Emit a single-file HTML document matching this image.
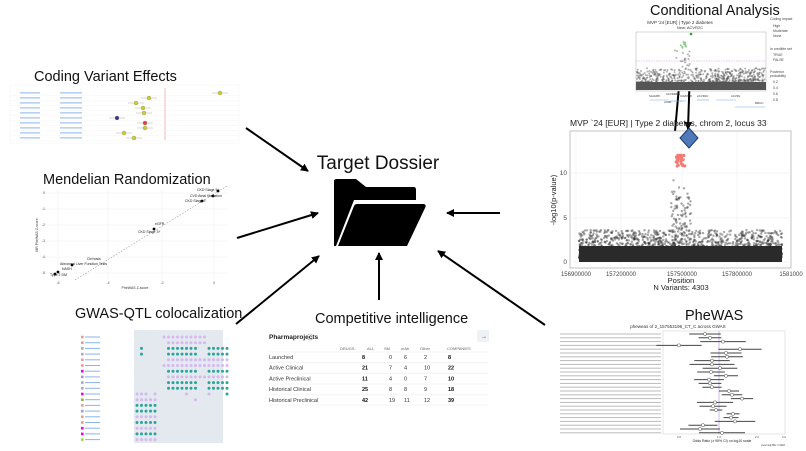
<!DOCTYPE html>
<html><head><meta charset="utf-8"><style>
html,body{margin:0;padding:0;background:#fff;}
svg{display:block;font-family:"Liberation Sans",sans-serif;}
</style></head><body>
<svg id="s" width="806" height="451" viewBox="0 0 806 451" xmlns="http://www.w3.org/2000/svg">
<defs><marker id="ah" markerWidth="8" markerHeight="8" refX="7" refY="4" orient="auto" markerUnits="userSpaceOnUse"><path d="M0,0 L8,4 L0,8 Z" fill="#000"/></marker></defs>
<rect width="806" height="451" fill="#fff"/>

<text x="378" y="169" font-size="19" text-anchor="middle" fill="#111">Target Dossier</text>
<path d="M334,181 Q334,179 337,179 L356,179 L366,187 L414,187 Q416,187 416,190 L416,200 L354,200 L336,246 L334,246 Z" fill="#000"/>
<path d="M357,204 L423,204 Q427,204 425,208 L407,246 L338,246 L354,206 Q355,204 357,204 Z" fill="#000"/>

<g stroke="#000" stroke-width="2" fill="none" marker-end="url(#ah)">
<line x1="246" y1="128" x2="308" y2="171"/>
<line x1="237" y1="238" x2="318" y2="213"/>
<line x1="236" y1="324" x2="319" y2="256"/>
<line x1="379" y1="300" x2="379" y2="253"/>
<line x1="500" y1="213" x2="447" y2="213"/>
<line x1="545" y1="325" x2="438" y2="251"/>
<line x1="682" y1="53" x2="673" y2="154"/>
<line x1="691" y1="37" x2="688" y2="129"/>
</g>

<text x="34" y="81" font-size="14.5" fill="#111">Coding Variant Effects</text>
<g id="cve"></g>

<text x="43" y="184" font-size="14.5" fill="#111">Mendelian Randomization</text>
<g id="mr"></g>

<text x="75" y="318" font-size="14.5" fill="#111">GWAS-QTL colocalization</text>
<g id="gq"></g>

<text x="315" y="323" font-size="14.5" fill="#111">Competitive intelligence</text>
<g id="ci" font-size="5.5" fill="#333">
<text x="269" y="339" font-size="6.5" font-weight="bold" fill="#222">Pharmaprojects</text>
<circle cx="310" cy="337" r="3" fill="none" stroke="#aaa" stroke-width="0.6"/>
<rect x="477" y="330" width="12" height="12" fill="#eef1f5"/>
<text x="481" y="338" font-size="6">→</text>
</g>

<text x="650" y="15" font-size="14.5" fill="#111">Conditional Analysis</text>
<text x="680" y="24" font-size="4.5" text-anchor="middle" fill="#333">MVP '24 [EUR] | Type 2 diabetes</text>
<text x="690" y="29" font-size="4" text-anchor="middle" fill="#333">New: ACVR2C</text>
<rect x="636" y="32" width="130" height="59" fill="#fff" stroke="#bbb" stroke-width="0.6"/>
<line x1="636" y1="61" x2="766" y2="61" stroke="#c9c" stroke-width="0.6" stroke-dasharray="1.5,1"/>
<g id="ca"></g>
<g id="leg" font-size="3.5" fill="#444">
<text x="770" y="20">Coding impact</text><text x="773" y="27">High</text><text x="773" y="32">Moderate</text><text x="773" y="37">None</text>
<text x="770" y="50">In credible set</text><text x="773" y="56">TRUE</text><text x="773" y="61">FALSE</text>
<text x="770" y="73">Posterior</text><text x="770" y="77">probability</text>
<text x="773" y="83">0.2</text><text x="773" y="89">0.4</text><text x="773" y="95">0.6</text><text x="773" y="101">0.8</text>
</g>

<text x="570" y="126" font-size="8.5" fill="#222">MVP `24 [EUR] | Type 2 diabetes, chrom 2, locus 33</text>
<rect x="570" y="131" width="221" height="137" fill="#fff" stroke="#999" stroke-width="0.6"/>
<g id="mh"></g>
<g font-size="6.5" fill="#444" text-anchor="end">
<text x="567" y="264">0</text><text x="567" y="220">5</text><text x="567" y="175">10</text>
</g>
<text transform="translate(556,200) rotate(-90)" font-size="7.5" text-anchor="middle" fill="#222">-log10(p-value)</text>
<g font-size="6" fill="#444" text-anchor="middle">
<text x="576" y="276">156900000</text><text x="621" y="276">157200000</text><text x="682" y="276">157500000</text><text x="737" y="276">157800000</text><text x="791" y="276">1581000</text>
</g>
<text x="681" y="283" font-size="7.5" text-anchor="middle" fill="#222">Position</text>
<text x="681" y="290" font-size="7.5" text-anchor="middle" fill="#222">N Variants: 4303</text>
<path d="M689,128 L698,138 L689,148 L680,138 Z" fill="#4f79b8" stroke="#1e3a6a" stroke-width="1"/>

<text x="685" y="320" font-size="14.5" fill="#111">PheWAS</text>
<text x="678" y="328" font-size="4.5" text-anchor="middle" fill="#333">pheweas of 2_157553196_CT_C across GWAS</text>
<rect x="663" y="331" width="122" height="103" fill="#fff" stroke="#ccc" stroke-width="0.5"/>
<line x1="719" y1="331" x2="719" y2="434" stroke="#b9a0e0" stroke-width="0.7"/>
<g id="pw"></g>
<text x="722" y="442" font-size="3.5" text-anchor="middle" fill="#222">Odds Ratio (± 95% CI) on log10 scale</text>
</svg>
<script>
var NS="http://www.w3.org/2000/svg";
function el(p,t,a,txt){var e=document.createElementNS(NS,t);for(var k in a)e.setAttribute(k,a[k]);if(txt)e.textContent=txt;document.getElementById(p).appendChild(e);return e;}
var seed=7;function r(){seed=(seed*16807)%2147483647;return seed/2147483647;}

el("cve","rect",{x:10,y:85,width:229,height:58,fill:"#fff",stroke:"#eee","stroke-width":0.4});
el("cve","line",{x1:165,y1:88,x2:165,y2:140,stroke:"#e88","stroke-width":0.6});
var cx=[220,149,136,143,144,117,145,145,124,134],cc=["#cc3","#cc3","#cc3","#cc3","#cc3","#339","#d44","#cc3","#cc3","#cc3"];
for(var i=0;i<10;i++){var y=93+i*5;
el("cve","line",{x1:10,y1:y+2.5,x2:239,y2:y+2.5,stroke:"#eee","stroke-width":0.3});
el("cve","rect",{x:20,y:y-0.6,width:20,height:1,fill:"#8ab4ec"});
el("cve","rect",{x:60,y:y-0.6,width:22,height:1,fill:"#8ab4ec"});
el("cve","line",{x1:cx[i]-8,y1:y,x2:cx[i]+8,y2:y,stroke:"#ccc","stroke-width":0.8});
el("cve","circle",{cx:cx[i],cy:y,r:2,fill:cc[i],stroke:"#886","stroke-width":0.3});}

for(var i=0;i<6;i++){el("mr","line",{x1:40,y1:193+i*16,x2:228,y2:193+i*16,stroke:"#eee","stroke-width":0.5});}
[58,108,162,214].forEach(function(x){el("mr","line",{x1:x,y1:190,x2:x,y2:280,stroke:"#eee","stroke-width":0.5});});
el("mr","line",{x1:75,y1:280,x2:227,y2:186,stroke:"#999","stroke-width":0.6,"stroke-dasharray":"1.5,1.5"});
[[218,191],[213,196],[202,201],[154,229],[72,265],[58,272],[55,274]].forEach(function(p){el("mr","circle",{cx:p[0],cy:p[1],r:1.4,fill:"#000"});});
var ml=[[197,191,"CKD Stage 5+"],[190,197,"CVD Atrial fibrillation"],[185,202,"CKD Stage 3"],[155,225,"eGFR"],[138,233,"CKD Stage 3+"],[87,260,"Cirrhosis"],[60,265,"Abnormal Liver Function Tests"],[62,270,"NASH"],[50,276,"Type 2 DM"]];
ml.forEach(function(m){el("mr","text",{x:m[0],y:m[1],"font-size":3.5,fill:"#222"},m[2]);});
[["0",45,194],["-1",45,210],["-2",45,226],["-3",45,242],["-4",45,258],["-5",45,274]].forEach(function(t){el("mr","text",{x:t[1],y:t[2],"font-size":3.5,fill:"#555","text-anchor":"end"},t[0]);});
[["-6",58],["-4",108],["-2",162],["0",214]].forEach(function(t){el("mr","text",{x:t[1],y:284,"font-size":3.5,fill:"#555","text-anchor":"middle"},t[0]);});
el("mr","text",{x:135,y:289,"font-size":3.5,fill:"#333","text-anchor":"middle"},"PheWAS Z-score");
el("mr","text",{x:38,y:235,"font-size":3.5,fill:"#333","text-anchor":"middle",transform:"rotate(-90 38 235)"},"MR PheWAS Z-score");

el("gq","rect",{x:75,y:330,width:157,height:113,fill:"#fff"});
el("gq","rect",{x:134,y:330,width:89,height:113,fill:"#e4e8ef"});
var rows=[
 [[6,15,"p"]],[[7,15,"p"]],[[1,1,"g"],[7,13,"g"],[16,20,"g"]],[[1,1,"g"],[7,13,"g"],[16,20,"g"]],
 [[7,20,"p"]],[[6,20,"p"]],[[7,13,"g"],[16,20,"g"]],[[7,20,"p"]],[[7,13,"g"],[16,20,"g"]],[[7,13,"g"],[16,20,"g"]],
 [[0,2,"p"],[4,4,"p"],[11,11,"p"],[16,16,"p"]],[[0,4,"p"],[13,13,"p"]],[[0,4,"g"]],[[0,4,"g"]],[[0,4,"p"]],[[0,4,"g"]],[[0,4,"p"]],[[0,4,"g"]],[[0,4,"p"]]];
var cols=["#e98","#e98","#aab","#aab","#e98","#e98","#e0e","#99d","#aab","#aab","#e0e","#9a4","#e98","#99d","#e98","#e98","#e0e","#e0e","#9d3"];
for(var i=0;i<rows.length;i++){var y=337+i*5.7;
el("gq","rect",{x:81,y:y-1.3,width:2.6,height:2.6,fill:cols[i]});
el("gq","rect",{x:85,y:y-0.5,width:15,height:1,fill:"#8ab4ec"});
rows[i].forEach(function(s){for(var k=s[0];k<=s[1];k++){el("gq","circle",{cx:137+k*4.5,cy:y,r:1.5,fill:s[2]=="p"?"#d6b8f0":"#2aa59a"});}});}
el("gq","circle",{cx:227,cy:394,r:1.5,fill:"#2aa59a"});

var hdr=[["DRUGS:",340],["ALL",367],["SM",384],["mAb",401],["Other",420],["COMPANIES",447]];
hdr.forEach(function(h){el("ci","text",{x:h[1],y:350,"font-size":4,fill:"#666"},h[0]);});
var data=[["Launched","8","0","6","2","8"],["Active Clinical","21","7","4","10","22"],["Active Preclinical","11","4","0","7","10"],["Historical Clinical","25","8","8","9","18"],["Historical Preclinical","42","19","11","12","39"]];
data.forEach(function(d,i){var y=359+i*10.7;
el("ci","line",{x1:269,y1:y-7,x2:488,y2:y-7,stroke:"#eee","stroke-width":0.6});
el("ci","text",{x:269,y:y},d[0]);
el("ci","text",{x:362,y:y,"font-weight":"bold",fill:"#111"},d[1]);
el("ci","text",{x:389,y:y},d[2]);el("ci","text",{x:404,y:y},d[3]);el("ci","text",{x:424,y:y},d[4]);
el("ci","text",{x:448,y:y,"font-weight":"bold",fill:"#111"},d[5]);});
el("ci","line",{x1:269,y1:405,x2:488,y2:405,stroke:"#eee","stroke-width":0.6});

for(var i=0;i<1200;i++){var x=637+r()*128;var h=Math.pow(r(),3)*18;var d=Math.abs(x-682);if(d<8)h*=2;
el("ca","circle",{cx:x,cy:86-h,r:1,fill:"#555","fill-opacity":0.45});}
el("ca","rect",{x:636,y:82,width:130,height:8,fill:"#555"});
for(var i=0;i<10;i++)el("ca","circle",{cx:680+r()*6,cy:42+r()*6,r:1,fill:"#8c8"});
el("ca","circle",{cx:691,cy:34,r:1.3,fill:"#2a2"});
[[650,100,18],[670,101,12],[680,101,6],[697,100,12],[716,100,20],[735,107,30]].forEach(function(g){el("ca","line",{x1:g[0],y1:g[1],x2:g[0]+g[2],y2:g[1],stroke:"#7aa8e8","stroke-width":0.6});});
[["SALMPF",649,97],["ACVR2B S",666,95],["CAVMPR",680,97],["ACVR2C",697,97],["ACVRL",731,97],["MRCU",755,104],["COBL",664,103]].forEach(function(t){el("ca","text",{x:t[1],y:t[2],"font-size":2.8,fill:"#333"},t[0]);});

[173,218,262].forEach(function(y){el("mh","line",{x1:570,y1:y,x2:791,y2:y,stroke:"#eee","stroke-width":0.6});});
[576,621,682,737].forEach(function(x){el("mh","line",{x1:x,y1:131,x2:x,y2:268,stroke:"#eee","stroke-width":0.6});});
for(var i=0;i<2600;i++){var x=579+r()*203;var h=Math.pow(r(),3)*28;var d=Math.abs(x-681);if(d<10&&r()<0.4)h+=r()*60;
el("mh","circle",{cx:x,cy:258-h,r:1.2,fill:"#222","fill-opacity":0.4});}
el("mh","rect",{x:579,y:246,width:203,height:16,fill:"#2a2a2a"});
for(var i=0;i<40;i++)el("mh","circle",{cx:676+r()*9,cy:154+r()*14,r:1.4,fill:"#f47c74"});

var ctr=[705,710,723,679,740,726,727,712,712,720,711,726,709,710,712,729,732,742,715,713,716,733,731,735,703,700,722];
for(var i=0;i<27;i++){var y=334+i*3.8;var c=ctr[i];var w=6+r()*18;
el("pw","rect",{x:560,y:y-0.5,width:101,height:1,fill:"#bbb"});
el("pw","line",{x1:c-w,y1:y,x2:c+w,y2:y,stroke:"#444","stroke-width":1});
el("pw","circle",{cx:c,cy:y,r:1.6,fill:"#fff",stroke:"#444","stroke-width":0.5});}
[["0.5",679],["1.0",719],["2.0",757],["3.0",784]].forEach(function(t){el("pw","text",{x:t[1],y:438,"font-size":3,fill:"#555","text-anchor":"middle"},t[0]);});
el("pw","text",{x:785,y:446,"font-size":3,fill:"#444","text-anchor":"end"},"pval adj BH 1.0E0");
</script>
</body></html>
